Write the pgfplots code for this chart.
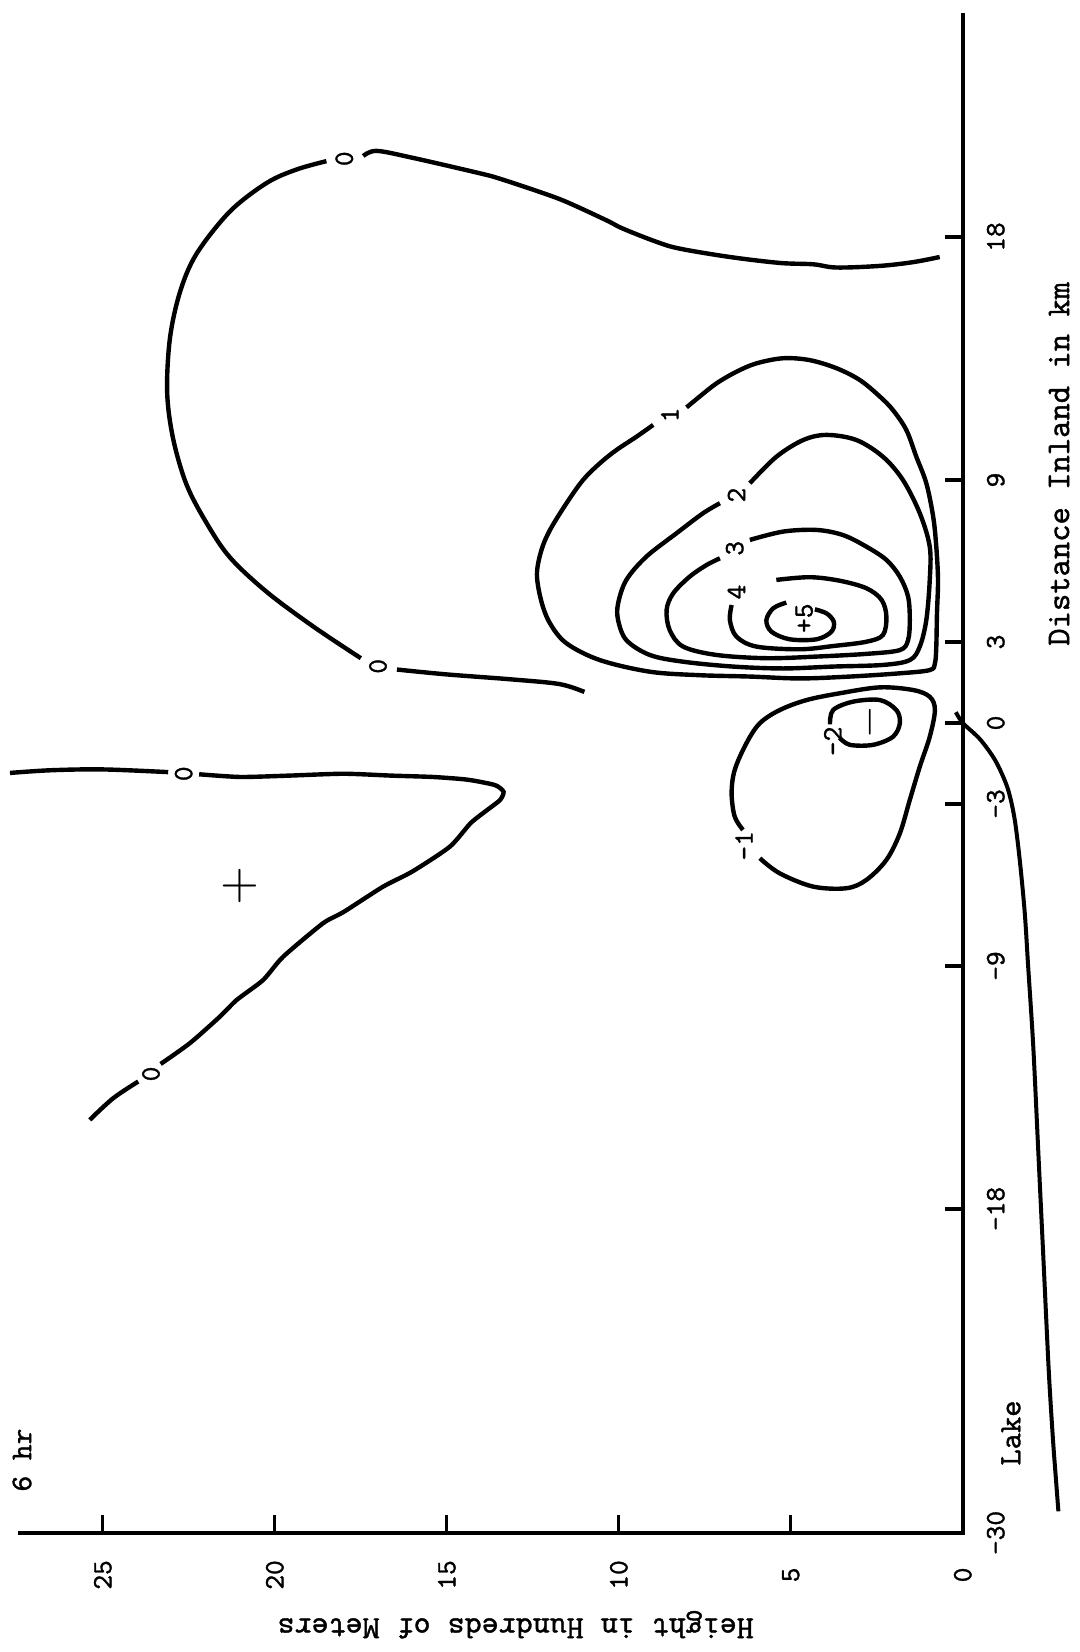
\documentclass[border=0pt]{standalone}
\usepackage{pgfplots}
\pgfplotsset{compat=1.18}
\usepackage{fontspec}
\setmainfont{lmmono10-regular.otf}[FakeBold=1.2]

\tikzset{
  contour/.style={black, line width=2.2pt, smooth, tension=0.55},
  lbl/.style={rotate=90, inner sep=0pt, font=\fontsize{14}{16}\selectfont},
}

\begin{document}
\begin{tikzpicture}
\begin{axis}[
  x=17.2pt, y=13.5pt,
  x dir=reverse,
  xmin=0, xmax=27.4, ymin=-30, ymax=26.2,
  axis x line*=bottom, axis y line*=right,
  clip=false,
  axis line style={line width=2.2pt, line cap=rect},
  tick align=inside,
  major tick length=9pt,
  every tick/.style={black, line width=1.6pt},
  xtick={0,5,10,15,20,25},
  xticklabels={0,5,10,15,20,25},
  ytick={-30,-18,-9,-3,0,3,9,18},
  yticklabels={–30,–18,–9,–3,0,3,9,18},
  tick label style={font=\fontsize{14}{16}\selectfont},
  xticklabel style={yshift=-21pt, rotate=90, anchor=center},
  yticklabel style={xshift=16.5pt, rotate=90, anchor=center},
  xlabel={Height in Hundreds of Meters},
  ylabel={Distance Inland in km},
  xlabel style={at={(axis cs:13,-33.4)}, anchor=center, rotate=180, font=\fontsize{16.2}{18}\selectfont},
  ylabel style={at={(axis cs:-2.8,9.6)}, anchor=center, font=\fontsize{16.5}{18}\selectfont},
  every axis plot/.append style={no marks},
]

% zero line over the lake (left branch)
\addplot[contour] coordinates {(27.7,-1.85) (26.5,-1.75) (25.0,-1.72) (23.1,-1.82)};
\addplot[contour, tension=0.4] coordinates {(22.2,-1.9) (21.0,-2.0) (19.6,-1.95) (18.0,-1.88) (16.6,-1.95) (15.4,-2.0) (14.4,-2.1) (13.6,-2.3) (13.35,-2.55) (13.45,-2.85) (13.75,-3.15) (14.3,-3.7) (14.91,-4.58) (16.0,-5.5) (16.85,-6.06) (18.0,-7.0) (18.6,-7.42) (19.76,-8.66) (20.34,-9.52) (21.11,-10.26) (21.6,-10.88) (22.47,-11.86) (23.32,-12.63)};
\addplot[contour] coordinates {(23.97,-13.28) (24.7,-13.9) (25.38,-14.7)};
\node[lbl] at (axis cs:22.65,-1.88) {0};
\node[lbl] at (axis cs:23.6,-13.0) {0};

% zero line inland (large loop)
\addplot[contour] coordinates {(11.0,1.15) (11.72,1.44) (13.07,1.61) (15.01,1.8) (16.45,1.98)};
\addplot[contour] coordinates {(17.5,2.4) (18.89,3.58) (20.24,4.86) (21.31,6.14) (21.99,7.42) (22.57,8.84) (22.96,10.55) (23.13,12.25) (23.05,14.24) (22.76,15.95) (22.28,17.37) (21.31,18.94) (20.24,20.0) (19.37,20.5) (18.5,20.81)};
\addplot[contour] coordinates {(17.43,21.0) (17.04,21.19) (15.98,20.93) (14.04,20.36) (13.46,20.16) (12.3,19.67) (11.52,19.3) (10.36,18.62) (9.88,18.31) (8.9,17.82) (8.23,17.57) (6.77,17.26) (5.32,17.04) (4.35,16.99) (3.67,16.87) (2.41,16.93) (1.44,17.07) (0.67,17.26)};
\node[lbl] at (axis cs:17.0,2.1) {0};
\node[lbl] at (axis cs:17.98,20.9) {0};

% contour 1
\addplot[contour] coordinates {(8.03,11.69) (7.65,12.09) (7.16,12.58) (6.58,13.01) (6.0,13.32) (5.22,13.51) (4.45,13.44) (3.67,13.14) (2.99,12.7) (2.41,12.09) (2.03,11.59) (1.64,10.85) (1.35,9.86) (1.06,8.88) (0.86,7.64) (0.77,6.53) (0.72,5.3) (0.75,4.06) (0.77,2.83) (0.81,2.21) (0.96,1.96) (1.83,1.84) (3.28,1.72) (4.74,1.65) (6.19,1.72) (7.65,1.77) (9.1,1.9) (10.55,2.33) (11.52,2.95) (12.0,3.69) (12.25,4.5) (12.38,5.5) (12.25,6.4) (12.0,7.15) (11.52,8.14) (11.04,9.0) (10.55,9.62) (10.07,10.11) (9.49,10.6) (9.0,11.04)};
\node[lbl] at (axis cs:8.52,11.41) {1};

% contour 2
\addplot[contour] coordinates {(6.19,8.88) (5.42,9.86) (4.64,10.48) (3.96,10.67) (3.09,10.48) (2.32,9.86) (1.74,9.0) (1.25,7.77) (0.96,6.53) (0.96,5.3) (1.06,3.81) (1.25,2.83) (1.54,2.33) (2.32,2.15) (3.77,2.09) (5.22,2.02) (6.68,2.09) (8.13,2.27) (9.1,2.52) (9.78,3.07) (10.02,3.81) (10.02,4.43) (9.78,5.3) (9.2,6.16) (8.32,7.03) (7.55,7.77) (7.06,8.14)};
\node[lbl] at (axis cs:6.58,8.44) {2};

% contour 3
\addplot[contour] coordinates {(6.19,6.78) (5.22,7.09) (4.25,7.15) (3.48,6.96) (2.8,6.53) (2.22,6.04) (1.83,5.42) (1.59,4.68) (1.54,3.81) (1.59,3.07) (1.83,2.7) (2.8,2.56) (4.25,2.46) (5.71,2.40) (7.16,2.52) (8.13,2.83) (8.52,3.44) (8.61,4.19) (8.42,4.8) (7.94,5.42) (7.45,5.85) (7.06,6.1)};
\node[lbl] at (axis cs:6.63,6.47) {3};

% contour 4
\addplot[contour] coordinates {(6.72,4.37) (6.77,3.81) (6.58,3.2) (6.0,2.83) (4.74,2.73) (3.77,2.85) (2.8,3.01) (2.32,3.26) (2.22,3.94) (2.36,4.56) (2.8,4.99) (3.58,5.27) (4.45,5.4) (5.42,5.3)};
\node[lbl] at (axis cs:6.58,4.85) {4};

% contour 5 and the maximum
\addplot[contour] coordinates {(5.13,4.46) (5.51,4.25) (5.71,3.81) (5.56,3.38) (5.03,3.1) (4.25,3.1) (3.82,3.38) (3.75,3.75) (3.96,4.06) (4.3,4.21)};
\node[lbl] at (axis cs:4.61,3.88) {+5};

% contour -1
\addplot[contour] coordinates {(5.9,-5.01) (5.32,-5.57) (4.35,-6.06) (3.38,-6.12) (2.8,-5.81) (2.22,-5.07) (1.83,-4.09) (1.54,-2.85) (1.25,-1.62) (0.96,-0.51) (0.81,0.48) (0.96,0.97) (1.44,1.22) (2.41,1.32) (3.58,1.1) (4.54,0.85) (5.32,0.48) (5.9,-0.01) (6.29,-0.75) (6.63,-1.74) (6.72,-2.6) (6.63,-3.47) (6.39,-3.96)};
\node[lbl] at (axis cs:6.36,-4.55) {-1};

% contour -2 and the minimum
\addplot[contour] coordinates {(3.86,-0.05) (3.77,0.48) (3.19,0.79) (2.41,0.85) (1.93,0.48) (1.83,-0.01) (2.03,-0.51) (2.61,-0.81) (3.28,-0.81) (3.58,-0.55)};
\node[lbl] at (axis cs:3.78,-0.68) {-2};
\node[rotate=90, scale=2.1] at (axis cs:2.7,0.02) {$-$};

% positive region over the lake
\node[scale=2.5] at (axis cs:21.02,-6.05) {$+$};

% lake surface
\addplot[black, line width=2pt, smooth, tension=0.5] coordinates {(0.2,0.4) (0,0) (-0.5,-0.6) (-0.95,-1.4) (-1.3,-2.4) (-1.5,-3.5) (-1.65,-5) (-1.8,-7) (-1.9,-9) (-2.05,-12) (-2.2,-16) (-2.35,-20) (-2.5,-24) (-2.62,-26.5) (-2.72,-28.2) (-2.78,-29.2)};

\node[lbl, font=\fontsize{15.5}{17}\selectfont] at (axis cs:-1.4,-26.3) {Lake};
\node[lbl, font=\fontsize{15}{17}\selectfont] at (axis cs:27.35,-27.3) {6 hr};

\coordinate (bbA) at (axis cs:27.99,26.78);
\coordinate (bbB) at (axis cs:-3.40,-34.41);
\end{axis}
\pgfresetboundingbox
\path[use as bounding box] (bbA) rectangle (bbB);
\end{tikzpicture}
\end{document}
